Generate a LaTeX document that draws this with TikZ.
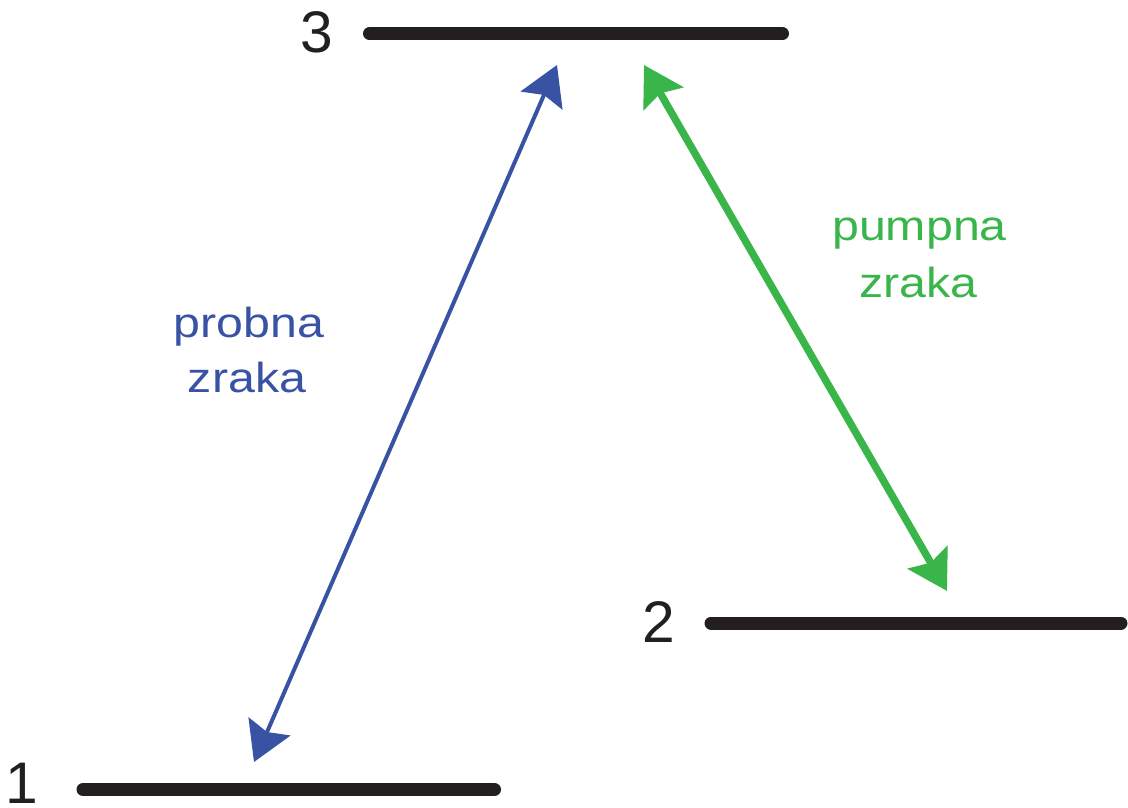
\documentclass[tikz,border=0pt]{standalone}
\usepackage{fontspec}
\setmainfont{Liberation Sans}
\newfontfamily\lblfont[FakeStretch=1.15]{Liberation Sans}
\usetikzlibrary{arrows.meta}
\definecolor{lvlblack}{HTML}{231F20}
\definecolor{probeblue}{HTML}{3953A4}
\definecolor{pumpgreen}{HTML}{39B54A}
\tikzset{
  level/.style={draw=lvlblack, line width=9.75pt, line cap=round},
  digit/.style={font=\fontsize{44pt}{50pt}\selectfont, text=lvlblack, anchor=base, inner sep=0pt},
  beamlabel/.style={font=\lblfont\fontsize{31.5pt}{42pt}\selectfont, anchor=base, inner sep=0pt},
  probe/.style={draw=probeblue, line width=3pt, {Stealth[length=29pt, width=34pt, inset=4.5pt]}-{Stealth[length=29pt, width=34pt, inset=4.5pt]}},
  pump/.style={draw=pumpgreen, line width=5.6pt, {Stealth[length=29pt, width=34pt, inset=4.5pt]}-{Stealth[length=29pt, width=34pt, inset=4.5pt]}}
}
\begin{document}
\begin{tikzpicture}[x=0.75pt, y=-0.75pt]
\useasboundingbox (0,0) rectangle (1128,807);
% levels
\coordinate (l3a) at (369.5,33.7);
\coordinate (l3b) at (782.5,33.7);
\coordinate (l2a) at (711,623);
\coordinate (l2b) at (1121,623);
\coordinate (l1a) at (83,789.5);
\coordinate (l1b) at (494.5,789.5);
\draw[level] (l3a) -- (l3b);
\draw[level] (l2a) -- (l2b);
\draw[level] (l1a) -- (l1b);
% digits
\node[digit] (n3) at (317,52) {3};
\node[digit] (n2) at (659,642) {2};
\node[digit] (n1) at (22,803) {1};
% arrows
\coordinate (b1) at (254,762);
\coordinate (b3) at (557,65);
\coordinate (g3) at (644,65);
\coordinate (g2) at (947,591);
\draw[probe] (b1) -- (b3);
\draw[pump] (g3) -- (g2);
% labels
\node[beamlabel, text=probeblue] (pl1) at (249,337) {probna};
\node[beamlabel, text=probeblue] (pl2) at (247,392) {zraka};
\node[beamlabel, text=pumpgreen] (ul1) at (919.5,240) {pumpna};
\node[beamlabel, text=pumpgreen] (ul2) at (918.5,297) {zraka};
\end{tikzpicture}
\end{document}
